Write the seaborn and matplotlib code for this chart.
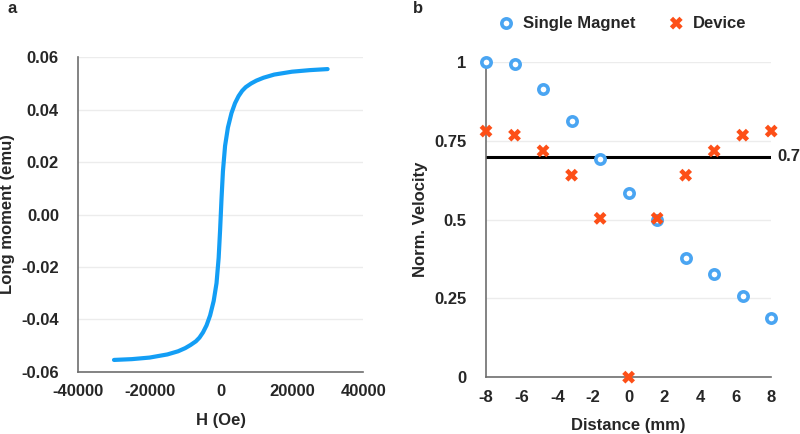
"""Magnetisation loop (a) and normalised velocity vs distance (b)."""

import matplotlib

matplotlib.use("Agg")
import matplotlib.pyplot as plt
import pandas as pd
import seaborn as sns

# panel a: M-H curve
field_oe = [-30000, -25000, -20000, -15000, -12000, -10000, -8500, -7000,
            -6000, -5000, -4000, -3000, -2000, -1200, -600, -200, 0, 200, 600,
            1200, 2000, 3000, 4000, 5000, 6000, 7000, 8500, 10000, 12000,
            15000, 20000, 25000, 30000]
moment_emu = [-0.0555, -0.0552, -0.0546, -0.0534, -0.0522, -0.0510, -0.0498,
              -0.0484, -0.0470, -0.0450, -0.0423, -0.0385, -0.0330, -0.0262,
              -0.0165, -0.0060, 0.0, 0.0060, 0.0165, 0.0262, 0.0332, 0.0387,
              0.0425, 0.0452, 0.0472, 0.0486, 0.0500, 0.0511, 0.0522, 0.0534,
              0.0545, 0.0551, 0.0555]

# panel b: normalised velocity
distance_mm = [-8, -6.4, -4.8, -3.2, -1.6, 0, 1.6, 3.2, 4.8, 6.4, 8]
single_magnet = [1.0, 0.993, 0.916, 0.814, 0.691, 0.586, 0.498, 0.377, 0.327,
                 0.258, 0.188]
device = [0.781, 0.768, 0.718, 0.641, 0.504, 0.0, 0.504, 0.641, 0.718, 0.768,
          0.781]
threshold = 0.7

LINE_BLUE = "#139ef5"
CIRCLE_BLUE = "#4aa5f2"
X_ORANGE = "#fd4f17"
SPINE = "#6e6e6e"
GRID = "#ececec"
FS = 12

sns.set_theme(style="white")
plt.rcParams["font.family"] = ["Liberation Sans", "DejaVu Sans"]
plt.rcParams["font.weight"] = "bold"
plt.rcParams["axes.labelweight"] = "bold"
plt.rcParams["axes.unicode_minus"] = False

fig = plt.figure(figsize=(8, 4.34), dpi=100)
ax_a = fig.add_axes([0.098, 0.1435, 0.356, 0.7245])
ax_b = fig.add_axes([0.6075, 0.131, 0.3565, 0.726])


def _style(ax):
    sns.despine(ax=ax)
    for side in ("left", "bottom"):
        ax.spines[side].set_color(SPINE)
        ax.spines[side].set_linewidth(1.2)
    ax.grid(axis="y", color=GRID, linewidth=1)
    ax.set_axisbelow(True)
    ax.tick_params(length=0, labelsize=FS)
    for lab in ax.get_xticklabels() + ax.get_yticklabels():
        lab.set_fontweight("bold")


# ---- panel a
mh = pd.DataFrame({"H": field_oe, "M": moment_emu})
sns.lineplot(data=mh, x="H", y="M", ax=ax_a, color=LINE_BLUE, linewidth=3,
             sort=False)
ax_a.set_xlim(-40000, 40000)
ax_a.set_ylim(-0.06, 0.06)
ax_a.set_xticks([-40000, -20000, 0, 20000, 40000])
ax_a.set_yticks([-0.06, -0.04, -0.02, 0.0, 0.02, 0.04, 0.06])
ax_a.set_yticklabels([f"{v:.2f}" for v in ax_a.get_yticks()])
ax_a.set_xlabel("H (Oe)", fontsize=FS)
ax_a.set_ylabel("Long moment (emu)", fontsize=FS)
ax_a.xaxis.set_label_coords(0.5, -0.131)
ax_a.yaxis.set_label_coords(-0.224, 0.5)
ax_a.tick_params(axis="y", pad=14)
ax_a.tick_params(axis="x", pad=9)
_style(ax_a)

# ---- panel b
ax_b.axhline(threshold, color="black", linewidth=2.2, zorder=2)
sns.scatterplot(x=distance_mm, y=single_magnet, ax=ax_b, marker="o", s=45,
                facecolor="white", edgecolor=CIRCLE_BLUE, linewidth=2.6,
                label="Single Magnet", clip_on=False, zorder=3)
sns.scatterplot(x=distance_mm, y=device, ax=ax_b, marker="X", s=85,
                color=X_ORANGE, edgecolor="none", label="Device",
                clip_on=False, zorder=4)
ax_b.set_xlim(-8, 8)
ax_b.set_ylim(0, 1)
ax_b.set_xticks(range(-8, 9, 2))
ax_b.set_yticks([0, 0.25, 0.5, 0.75, 1])
ax_b.set_yticklabels(["0", "0.25", "0.5", "0.75", "1"])
ax_b.set_xlabel("Distance (mm)", fontsize=FS)
ax_b.set_ylabel("Norm. Velocity", fontsize=FS)
ax_b.xaxis.set_label_coords(0.5, -0.130)
ax_b.yaxis.set_label_coords(-0.2035, 0.5)
ax_b.tick_params(axis="y", pad=14)
ax_b.tick_params(axis="x", pad=9)
_style(ax_b)
ax_b.text(1.02, threshold, f"{threshold:g}", transform=ax_b.get_yaxis_transform(),
          ha="left", va="center", fontsize=FS, fontweight="bold")
ax_b.legend(loc="center left", bbox_to_anchor=(0.612, 0.947),
            bbox_transform=fig.transFigure, ncol=2, frameon=False,
            columnspacing=1.95, handlelength=1.0, handletextpad=0.5,
            borderpad=0, prop={"weight": "bold", "size": FS})

fig.text(0.009, 0.998, "a", fontsize=FS, fontweight="bold", va="top")
fig.text(0.516, 0.998, "b", fontsize=FS, fontweight="bold", va="top")

fig.savefig("out.png", dpi=100)
